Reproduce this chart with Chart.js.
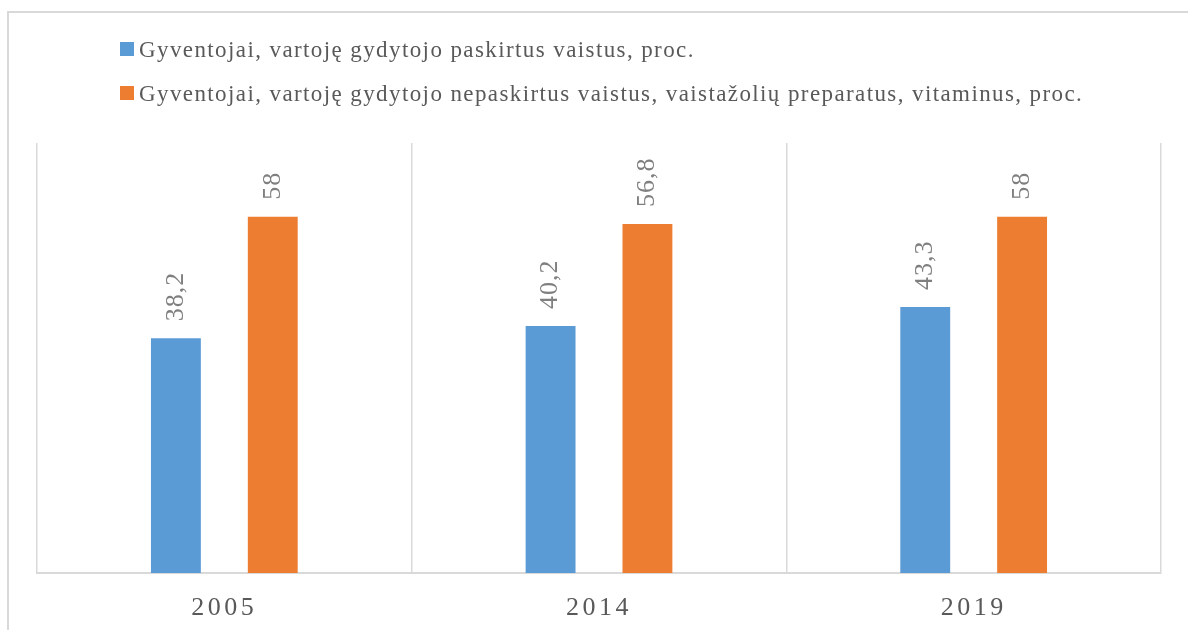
<!DOCTYPE html>
<html>
<head>
<meta charset="utf-8">
<script src="https://cdn.jsdelivr.net/npm/chart.js@4"></script>
<style>
  html, body { margin: 0; padding: 0; background: #fff; }
  #wrap { width: 1188px; height: 630px; }
</style>
</head>
<body>
<div id="wrap"><canvas id="myChart" width="1188" height="630"></canvas></div>
<script>
const years = ['2005', '2014', '2019']
const prescribed = [38.2, 40.2, 43.3]
const nonPrescribed = [58, 56.8, 58]
const seriesNames = [
    'Gyventojai, vartoję gydytojo paskirtus vaistus, proc.',
    'Gyventojai, vartoję gydytojo nepaskirtus vaistus, vaistažolių preparatus, vitaminus, proc.'
]
const seriesColors = ['#5b9bd5', '#ed7d31']

const serif = '"Liberation Serif", "Times New Roman", serif'

// frame + letter spacing for the year labels
const framePlugin = {
    id: 'frame',
    beforeDraw(chart) {
        let ctx = chart.ctx
        ctx.save()
        ctx.strokeStyle = '#d9d9d9'
        ctx.lineWidth = 2
        ctx.strokeRect(8, 12, 1300, 700)
        ctx.restore()
        ctx.letterSpacing = '3.5px'
    },
    beforeDatasetsDraw(chart) {
        chart.ctx.letterSpacing = '0px'
    }
}

// rotated value labels above bars
const valueLabels = {
    id: 'valueLabels',
    afterDatasetsDraw(chart) {
        let ctx = chart.ctx
        chart.data.datasets.forEach((ds, i) => {
            chart.getDatasetMeta(i).data.forEach((bar, j) => {
                ctx.save()
                ctx.translate(bar.x, bar.y - 17)
                ctx.rotate(-Math.PI / 2)
                ctx.font = '26px ' + serif
                ctx.letterSpacing = '1px'
                ctx.fillStyle = '#7f7f7f'
                ctx.textAlign = 'left'
                ctx.textBaseline = 'middle'
                ctx.fillText(String(ds.data[j]).replace('.', ','), 0, 0)
                ctx.restore()
            })
        })
    }
}

// stacked legend at top left
const stackedLegend = {
    id: 'stackedLegend',
    afterDraw(chart) {
        let ctx = chart.ctx
        ctx.save()
        ctx.font = '23px ' + serif
        ctx.letterSpacing = '1.4px'
        ctx.textBaseline = 'alphabetic'
        chart.data.datasets.forEach((ds, i) => {
            let y = 49 + i * 44
            ctx.fillStyle = ds.backgroundColor
            ctx.fillRect(120, y - 7, 14, 14)
            ctx.fillStyle = '#595959'
            ctx.fillText(ds.label, 139, y + 8)
        })
        ctx.restore()
    }
}

var ctx = document.getElementById('myChart').getContext('2d');
var chart = new Chart(ctx, {
    type: 'bar',
    data: {
        labels: years,
        datasets: [
            { label: seriesNames[0], data: prescribed, backgroundColor: seriesColors[0] },
            { label: seriesNames[1], data: nonPrescribed, backgroundColor: seriesColors[1] }
        ]
    },
    options: {
        responsive: false,
        animation: false,
        categoryPercentage: 0.517,
        barPercentage: 0.515,
        layout: { padding: { left: 37, right: 27, top: 143, bottom: 0 } },
        plugins: {
            legend: { display: false },
            tooltip: { enabled: false }
        },
        scales: {
            x: {
                grid: { color: '#d9d9d9', lineWidth: 1.5, drawTicks: false },
                border: { color: '#d9d9d9', width: 2 },
                ticks: { color: '#595959', font: { family: serif, size: 26 }, padding: 20 },
                afterFit(scale) { scale.height = 57 }
            },
            y: {
                display: false,
                min: 0,
                max: 70
            }
        }
    },
    plugins: [framePlugin, valueLabels, stackedLegend]
});
</script>
</body>
</html>
